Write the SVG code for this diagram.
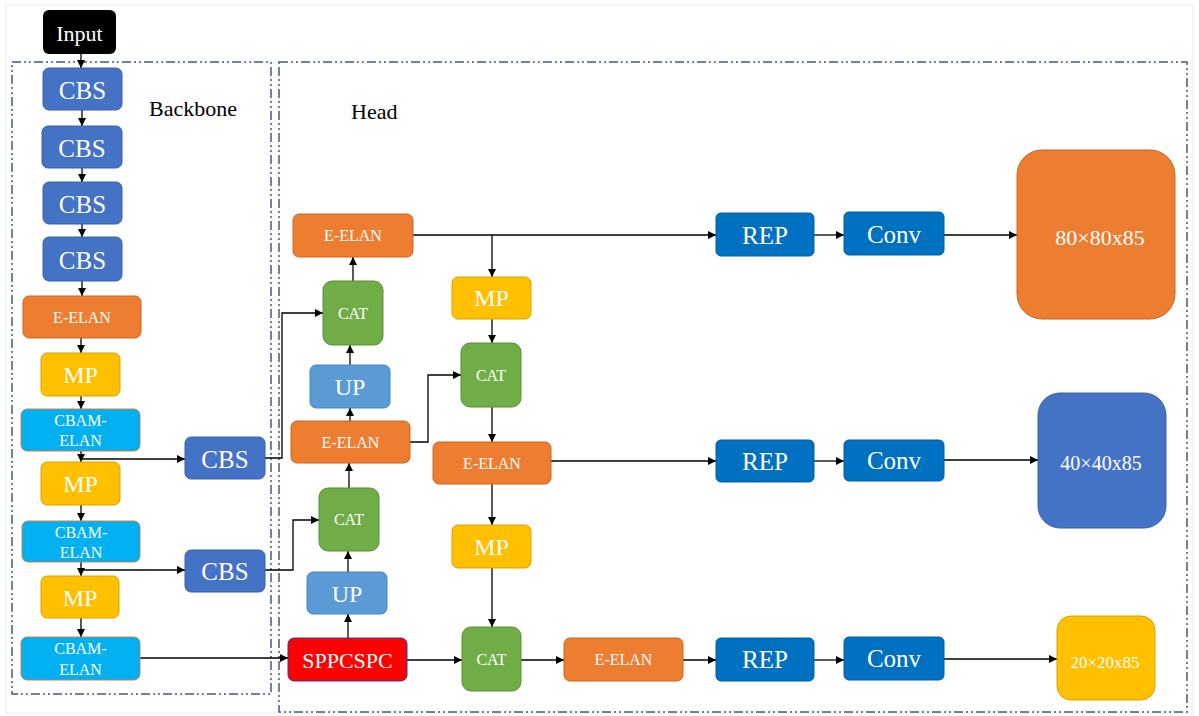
<svg xmlns="http://www.w3.org/2000/svg" width="1199" height="716" viewBox="0 0 1199 716" font-family="'Liberation Serif', 'DejaVu Serif', serif">
<style>
  text{font-family:'Liberation Serif','DejaVu Serif',serif}
  .t{fill:#fff;text-anchor:middle;dominant-baseline:central}
  .lab{fill:#000;font-size:22px}
  .big{font-size:25px}
  .mid{font-size:24px}
  .sm{font-size:16px}
  .frame{fill:none;stroke:#4a5a78;stroke-width:1.5;stroke-dasharray:9 3 2 3 2 3}
  .cbs{fill:#4472C4;stroke:#3a62a8}
  .eelan{fill:#ED7D31;stroke:#c8661f}
  .mp{fill:#FFC000;stroke:#d9a300}
  .cbam{fill:#00B0F0;stroke:#d0804a}
  .cat{fill:#70AD47;stroke:#5a8f38}
  .up{fill:#5B9BD5;stroke:#4a86bd}
  .rep{fill:#0070C0;stroke:#005ea3}
  .con path{fill:none;stroke:#000;stroke-width:1.3;marker-end:url(#ah)}
</style>
<defs>
  <marker id="ah" viewBox="0 0 8 8" refX="8" refY="4" markerWidth="8" markerHeight="8" markerUnits="userSpaceOnUse" orient="auto">
    <path d="M0 0 L8 4 L0 8 z" fill="#000"/>
  </marker>
</defs>
<rect x="0" y="0" width="1199" height="716" fill="#fff"/>
<rect x="6" y="5" width="1187" height="708" fill="none" stroke="#ececec" stroke-width="1"/>
<rect class="frame" x="12" y="62" width="259" height="632"/>
<rect class="frame" x="279" y="62" width="908" height="650"/>
<text class="lab" x="149" y="116">Backbone</text>
<text class="lab" x="351" y="119">Head</text>

<g class="con">
  <path d="M81 54 V68"/>
  <path d="M82 110 V126"/>
  <path d="M82 168 V182"/>
  <path d="M82 224 V237"/>
  <path d="M82 281 V296"/>
  <path d="M81 338 V353"/>
  <path d="M81 396 V409"/>
  <path d="M81 451 V462"/>
  <path d="M81 459 H185"/>
  <path d="M81 505 V521"/>
  <path d="M81 562 V576"/>
  <path d="M81 570 H185"/>
  <path d="M81 618 V637"/>
  <path d="M140 658 H288"/>
  <path d="M265 458 H282 V313 H323"/>
  <path d="M265 570 H293 V520 H319"/>
  <path d="M348 638 V614"/>
  <path d="M348 572 V551"/>
  <path d="M349 488 V463"/>
  <path d="M350 421 V408"/>
  <path d="M350 365 V345"/>
  <path d="M353 281 V257"/>
  <path d="M413 235 H716"/>
  <path d="M492 235 V277"/>
  <path d="M492 319 V343"/>
  <path d="M410 442 H428 V375 H461"/>
  <path d="M492 407 V442"/>
  <path d="M551 461 H716"/>
  <path d="M492 484 V525"/>
  <path d="M492 568 V627"/>
  <path d="M407 660 H462"/>
  <path d="M521 660 H564"/>
  <path d="M683 660 H716"/>
  <path d="M814 235 H844"/>
  <path d="M814 461 H844"/>
  <path d="M814 660 H844"/>
  <path d="M944 235 H1017"/>
  <path d="M944 460 H1038"/>
  <path d="M944 659 H1057"/>
</g>

<g id="input"><rect x="43" y="10" width="73" height="44" rx="6" fill="#000"/><text class="t" x="79.5" y="33" font-size="22">Input</text></g>
<g id="cbs1"><rect class="cbs" x="43" y="68" width="79" height="42" rx="6"/><text class="t big" x="82.5" y="90">CBS</text></g>
<g id="cbs2"><rect class="cbs" x="42" y="126" width="80" height="42" rx="6"/><text class="t big" x="82" y="148">CBS</text></g>
<g id="cbs3"><rect class="cbs" x="43" y="182" width="79" height="42" rx="6"/><text class="t big" x="82.5" y="204">CBS</text></g>
<g id="cbs4"><rect class="cbs" x="43" y="237" width="79" height="44" rx="6"/><text class="t big" x="82.5" y="260">CBS</text></g>
<g id="bb-eelan"><rect class="eelan" x="23" y="296" width="118" height="42" rx="6"/><text class="t sm" x="82" y="317">E-ELAN</text></g>
<g id="bb-mp1"><rect class="mp" x="41" y="353" width="79" height="43" rx="6"/><text class="t mid" x="80.5" y="375">MP</text></g>
<g id="cbam1"><rect class="cbam" x="21" y="409" width="119" height="42" rx="6"/><text class="t sm" x="80.5" y="420">CBAM-</text><text class="t sm" x="80.5" y="440">ELAN</text></g>
<g id="bb-mp2"><rect class="mp" x="41" y="462" width="79" height="43" rx="6"/><text class="t mid" x="80.5" y="484">MP</text></g>
<g id="cbam2"><rect class="cbam" x="22" y="521" width="118" height="41" rx="6"/><text class="t sm" x="81" y="532">CBAM-</text><text class="t sm" x="81" y="552">ELAN</text></g>
<g id="bb-mp3"><rect class="mp" x="41" y="576" width="78" height="42" rx="6"/><text class="t mid" x="80" y="598">MP</text></g>
<g id="cbam3"><rect class="cbam" x="21" y="637" width="119" height="43" rx="6"/><text class="t sm" x="80.5" y="648">CBAM-</text><text class="t sm" x="80.5" y="669">ELAN</text></g>
<g id="side-cbs1"><rect class="cbs" x="185" y="437" width="80" height="42" rx="6"/><text class="t big" x="225" y="459">CBS</text></g>
<g id="side-cbs2"><rect class="cbs" x="185" y="550" width="80" height="42" rx="6"/><text class="t big" x="225" y="571">CBS</text></g>

<g id="h-eelan1"><rect class="eelan" x="293" y="214" width="120" height="43" rx="6"/><text class="t sm" x="353" y="235">E-ELAN</text></g>
<g id="h-cat1"><rect class="cat" x="323" y="281" width="60" height="64" rx="9"/><text class="t sm" x="353" y="313">CAT</text></g>
<g id="h-up1"><rect class="up" x="310" y="365" width="80" height="43" rx="6"/><text class="t mid" x="350" y="387">UP</text></g>
<g id="h-eelan2"><rect class="eelan" x="291" y="421" width="119" height="42" rx="6"/><text class="t sm" x="350.5" y="442">E-ELAN</text></g>
<g id="h-cat2"><rect class="cat" x="319" y="488" width="60" height="63" rx="9"/><text class="t sm" x="349" y="519">CAT</text></g>
<g id="h-up2"><rect class="up" x="307" y="572" width="80" height="42" rx="6"/><text class="t mid" x="347" y="594">UP</text></g>
<g id="sppcspc"><rect x="288" y="638" width="119" height="43" rx="6" fill="#FF0000" stroke="#2a3fa0"/><text class="t" x="347.5" y="660" font-size="22">SPPCSPC</text></g>
<g id="h-mp1"><rect class="mp" x="452" y="277" width="79" height="42" rx="6"/><text class="t mid" x="491.5" y="298">MP</text></g>
<g id="h-cat3"><rect class="cat" x="461" y="343" width="60" height="64" rx="9"/><text class="t sm" x="491" y="375">CAT</text></g>
<g id="h-eelan3"><rect class="eelan" x="433" y="442" width="118" height="42" rx="6"/><text class="t sm" x="492" y="463">E-ELAN</text></g>
<g id="h-mp2"><rect class="mp" x="452" y="525" width="79" height="43" rx="6"/><text class="t mid" x="491.5" y="547">MP</text></g>
<g id="h-cat4"><rect class="cat" x="462" y="627" width="59" height="64" rx="9"/><text class="t sm" x="491.5" y="659">CAT</text></g>
<g id="h-eelan4"><rect class="eelan" x="564" y="638" width="119" height="43" rx="6"/><text class="t sm" x="623.5" y="659">E-ELAN</text></g>

<g id="rep1"><rect class="rep" x="716" y="213" width="98" height="43" rx="5"/><text class="t big" x="765" y="235">REP</text></g>
<g id="conv1"><rect class="rep" x="844" y="212" width="100" height="43" rx="5"/><text class="t big" x="894" y="234">Conv</text></g>
<g id="rep2"><rect class="rep" x="716" y="440" width="98" height="42" rx="5"/><text class="t big" x="765" y="461">REP</text></g>
<g id="conv2"><rect class="rep" x="844" y="440" width="100" height="41" rx="5"/><text class="t big" x="894" y="460">Conv</text></g>
<g id="rep3"><rect class="rep" x="716" y="638" width="98" height="43" rx="5"/><text class="t big" x="765" y="659">REP</text></g>
<g id="conv3"><rect class="rep" x="844" y="637" width="100" height="43" rx="5"/><text class="t big" x="894" y="658">Conv</text></g>

<g id="out80"><rect x="1017" y="150" width="158" height="169" rx="25" fill="#ED7D31" stroke="#c8661f"/><text class="t" x="1100" y="237" font-size="22">80×80x85</text></g>
<g id="out40"><rect x="1038" y="393" width="128" height="135" rx="22" fill="#4472C4" stroke="#3a62a8"/><text class="t" x="1101" y="463" font-size="20">40×40x85</text></g>
<g id="out20"><rect x="1057" y="616" width="98" height="84" rx="14" fill="#FFC000" stroke="#d9a300"/><text class="t" x="1105" y="662" font-size="17">20×20x85</text></g>
</svg>
